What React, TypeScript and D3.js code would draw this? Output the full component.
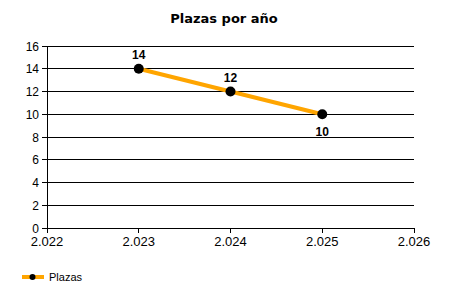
import React from "react";
import * as d3 from "d3";

const years = [2023, 2024, 2025];
const plazas = [14, 12, 10];
const yTicks = [0, 2, 4, 6, 8, 10, 12, 14, 16];
const xTicks = [2022, 2023, 2024, 2025, 2026];
const labelPos = ["above", "above", "below"];

export default function App() {
  const W = 450, H = 300;
  const x = d3.scaleLinear().domain([2022, 2026]).range([47, 414]);
  const y = d3.scaleLinear().domain([0, 16]).range([228, 46]);
  const line = d3.line<number>().x((_, i) => x(years[i])).y((d) => y(d));
  const font = "'Liberation Sans', Arial, sans-serif";
  const fmt = (v: number) => (v / 1000).toFixed(3);
  return (
    <svg width={W} height={H} style={{ position: "absolute", left: 0, top: 0, background: "#fff" }} fontFamily={font}>
      <rect width={W} height={H} fill="#fff" />
      <text x={224} y={23} textAnchor="middle" fontSize={13} fontWeight="bold" fontFamily="'DejaVu Sans', sans-serif">Plazas por año</text>
      {yTicks.map((t) => (
        <g key={t}>
          <line x1={42} x2={414} y1={y(t)} y2={y(t)} stroke="#000" strokeWidth={1} shapeRendering="crispEdges" />
          <text x={39} y={y(t) + 4.5} textAnchor="end" fontSize={12}>{t}</text>
        </g>
      ))}
      <line x1={47} x2={47} y1={46} y2={228} stroke="#000" shapeRendering="crispEdges" />
      {xTicks.map((t) => (
        <g key={t}>
          <line x1={x(t)} x2={x(t)} y1={228} y2={233} stroke="#000" shapeRendering="crispEdges" />
          <text x={x(t)} y={246} textAnchor="middle" fontSize={13}>{fmt(t)}</text>
        </g>
      ))}
      <path d={line(plazas) || ""} fill="none" stroke="#FFA500" strokeWidth={4} />
      {plazas.map((v, i) => (
        <g key={i}>
          <circle cx={x(years[i])} cy={y(v)} r={5} fill="#000" />
          <text x={x(years[i])} y={labelPos[i] === "above" ? y(v) - 10 : y(v) + 22} textAnchor="middle" fontSize={12} fontWeight="bold">{v}</text>
        </g>
      ))}
      <line x1={22} x2={44} y1={277} y2={277} stroke="#FFA500" strokeWidth={4} />
      <circle cx={32.5} cy={277} r={3} fill="#000" />
      <text x={49} y={281} fontSize={11}>Plazas</text>
    </svg>
  );
}
